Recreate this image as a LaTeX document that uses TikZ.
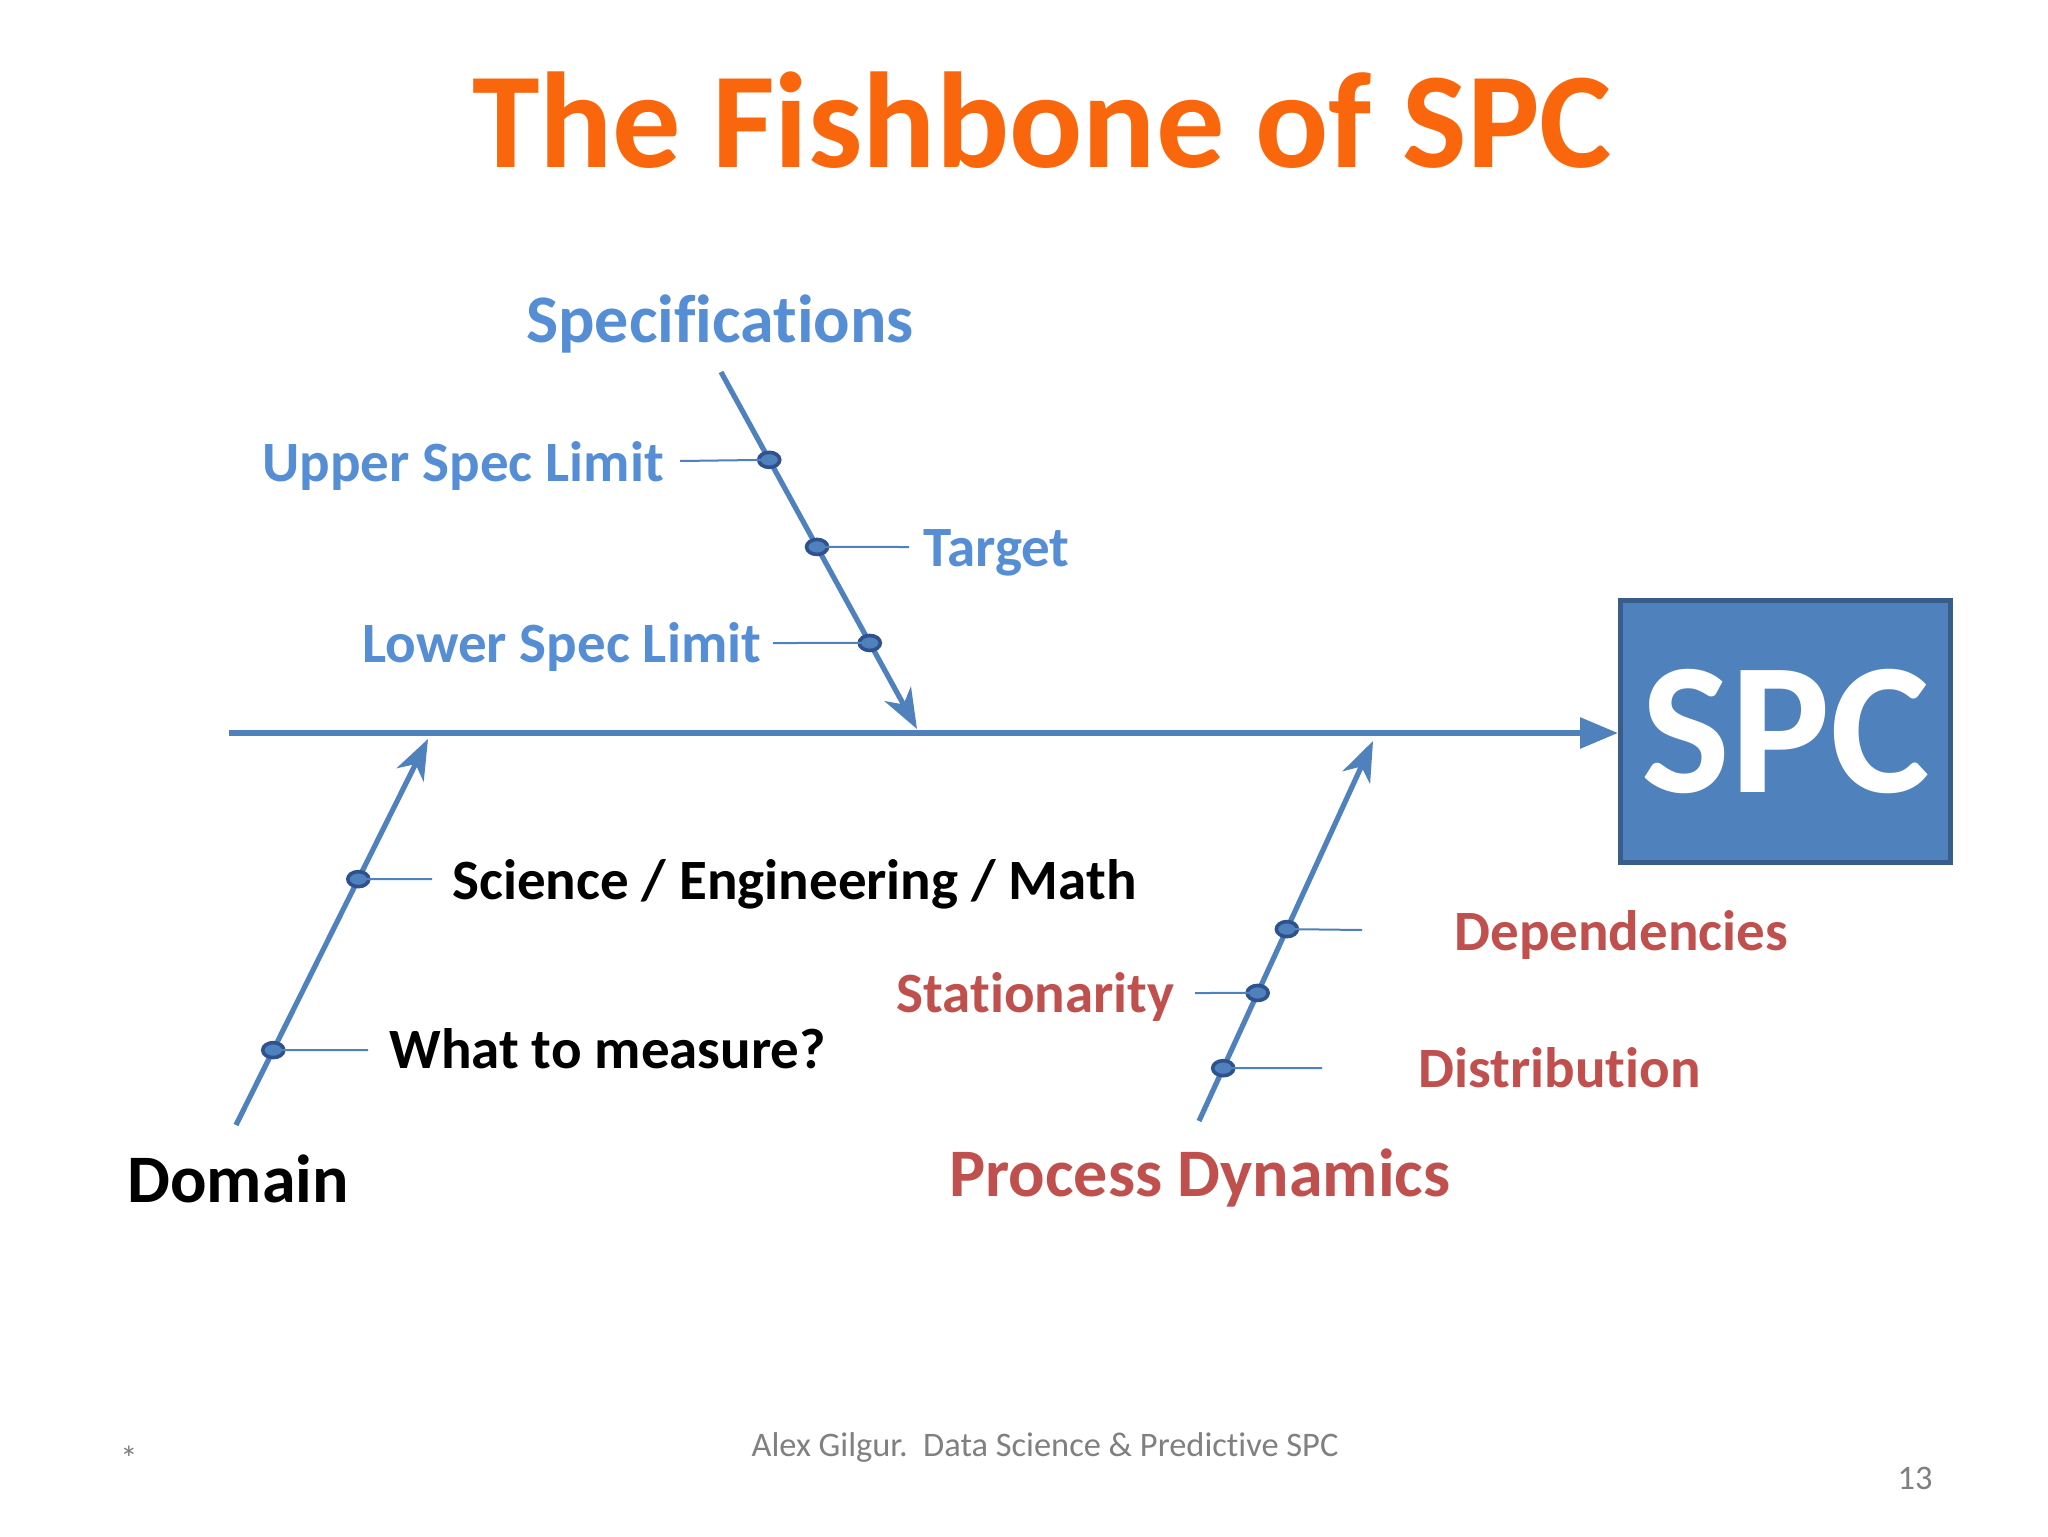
\documentclass[tikz,border=0pt]{standalone}
\usepackage{fontspec}
\setmainfont{Carlito}[Ligatures=NoCommon]
\usetikzlibrary{arrows.meta,shapes.geometric,calc}
\definecolor{orng}{RGB}{250,102,12}
\definecolor{bone}{RGB}{79,129,189}
\definecolor{boned}{RGB}{47,82,143}
\definecolor{boxd}{RGB}{56,93,138}
\definecolor{lblue}{RGB}{85,142,213}
\definecolor{lred}{RGB}{192,80,77}
\definecolor{foot}{RGB}{128,128,128}
\tikzset{
  spine/.style={draw=bone,line width=3pt,-{Triangle[length=19pt,width=15pt]}},
  branch/.style={draw=bone,line width=2.6pt,-{Stealth[length=20pt,width=15pt,inset=6pt]}},
  tick/.style={draw=bone,line width=1pt},
  knot/.style={ellipse,draw=boned,fill=bone,line width=1.8pt,minimum width=10.5pt,minimum height=7.5pt,inner sep=0pt},
  lbl/.style={inner sep=0pt,font=\bfseries\fontsize{28.5}{28.5}\selectfont},
  biglbl/.style={inner sep=0pt,font=\bfseries\fontsize{34}{34}\selectfont},
  blbl/.style={lbl,text=lblue},
  rlbl/.style={lbl,text=lred},
  klbl/.style={lbl,text=black},
  footlbl/.style={inner sep=0pt,text=foot,font=\fontsize{17.2}{17.2}\selectfont},
}
\begin{document}
\begin{tikzpicture}[x=0.5pt,y=-0.5pt]
\useasboundingbox[fill=white] (0,0) rectangle (2048,1536);
% title
\node[anchor=base,inner sep=0pt,text=orng,font=\bfseries\fontsize{68.2}{68.2}\selectfont] (title) at (1042,167) {The Fishbone of SPC};
% SPC box
\node[draw=boxd,fill=bone,line width=2.5pt,minimum width=165pt,minimum height=131pt,inner sep=0pt,
  text=white,font=\bfseries\fontsize{94}{94}\selectfont] (spc) at (1785.5,731.5) {SPC};
% spine
\coordinate (tail) at (229,733);
\draw[spine] (tail) -- (spc.west |- tail);
% Specifications branch
\coordinate (s1) at (721,372);
\coordinate (s2) at (917,729);
\draw[branch] (s1) -- (s2);
\node[knot] (k1) at ($(s1)!0.246!(s2)$) {};
\node[knot] (k2) at ($(s1)!0.490!(s2)$) {};
\node[knot] (k3) at ($(s1)!0.759!(s2)$) {};
\coordinate (t1) at (680,461);
\coordinate (t2) at (909,547);
\coordinate (t3) at (773,643);
\draw[tick] (t1) -- (k1.center);
\draw[tick] (k2.center) -- (t2);
\draw[tick] (t3) -- (k3.center);
\node[biglbl,text=lblue,anchor=base] (spec) at (720,342) {Specifications};
\node[blbl,anchor=base west] (usl) at (262,481) {Upper Spec Limit};
\node[blbl,anchor=base west] (tgt) at (923,566) {Target};
\node[blbl,anchor=base west] (lsl) at (362,662) {Lower Spec Limit};
% Domain branch
\coordinate (d1) at (236,1125);
\coordinate (d2) at (428,739);
\draw[branch] (d1) -- (d2);
\node[knot] (k4) at ($(d1)!0.637!(d2)$) {};
\node[knot] (k5) at ($(d1)!0.194!(d2)$) {};
\coordinate (t4) at (432,879);
\coordinate (t5) at (368,1050);
\draw[tick] (k4.center) -- (t4);
\draw[tick] (k5.center) -- (t5);
\node[klbl,anchor=base west] (sem) at (452,899) {Science / Engineering / Math};
\node[klbl,anchor=base west] (wtm) at (389,1068) {What to measure?};
\node[biglbl,text=black,anchor=base west] (dom) at (127,1202) {Domain};
% Process Dynamics branch
\coordinate (p1) at (1199,1121);
\coordinate (p2) at (1373,741);
\draw[branch] (p1) -- (p2);
\node[knot] (k6) at ($(p1)!0.505!(p2)$) {};
\node[knot] (k7) at ($(p1)!0.337!(p2)$) {};
\node[knot] (k8) at ($(p1)!0.139!(p2)$) {};
\coordinate (t6) at (1362,930);
\coordinate (t7) at (1195,993);
\coordinate (t8) at (1322,1068);
\draw[tick] (k6.center) -- (t6);
\draw[tick] (t7) -- (k7.center);
\draw[tick] (k8.center) -- (t8);
\node[rlbl,anchor=base west] (dep) at (1454,950) {Dependencies};
\node[rlbl,anchor=base west] (sta) at (896,1012) {Stationarity};
\node[rlbl,anchor=base west] (dis) at (1418,1087) {Distribution};
\node[biglbl,text=lred,anchor=base] (pd) at (1200,1196) {Process Dynamics};
% footer
\node[footlbl,anchor=base] (ft) at (1045,1456) {Alex Gilgur.\ \ Data Science \& Predictive SPC};
\node[footlbl,anchor=base] (ast) at (129,1470) {*};
\node[footlbl,anchor=base] (pg) at (1915,1489) {13};
\end{tikzpicture}
\end{document}
